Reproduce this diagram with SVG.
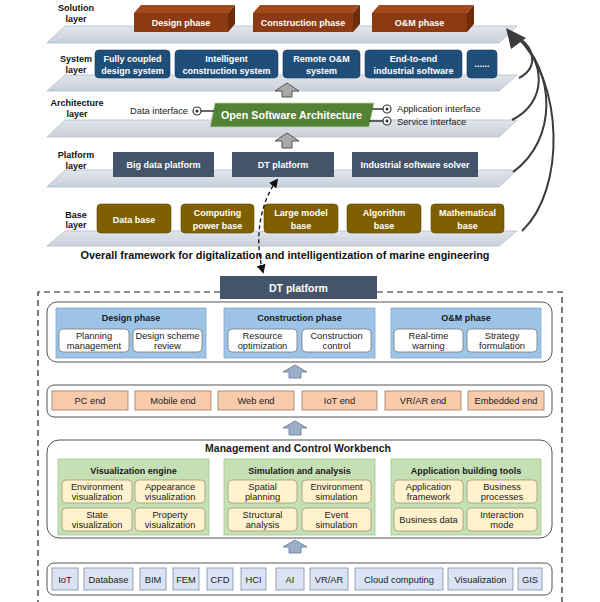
<svg xmlns="http://www.w3.org/2000/svg" width="600" height="602" viewBox="0 0 600 602">
<style>
.t{font-family:"Liberation Sans",Arial,sans-serif;font-size:9.3px;text-anchor:middle;fill:#1a1a1a}
.b{font-weight:bold;font-size:9px}
.w{fill:#ffffff}
.lbl{font-family:"Liberation Sans",Arial,sans-serif;font-size:9px;font-weight:bold;text-anchor:middle;fill:#111}
.plate{fill:url(#pg);stroke:#b4bcc8;stroke-width:0.8}
.sys{fill:#1f4e79;stroke:#16395a;stroke-width:0.6}
.plat{fill:#44546a}
.base{fill:#7f6000;stroke:#5f4800;stroke-width:0.6}
.box{fill:#fff;stroke:#777;stroke-width:0.8}
.cont{fill:#fff;stroke:#555;stroke-width:1}
.phase{fill:#9dc3e6;stroke:#7fa7cf;stroke-width:0.8}
.endb{fill:#f8cbad;stroke:#9c7a63;stroke-width:0.8}
.gp{fill:#c5e0b4;stroke:#a2c98a;stroke-width:0.8}
.cr{fill:#fff2cc;stroke:#a39878;stroke-width:0.8}
.bb{fill:#dae3f3;stroke:#7f8ea6;stroke-width:0.8}
.garr{fill:#a9a9a9;stroke:#555;stroke-width:1}
.barr{fill:#9bb0c8;stroke:#7a8799;stroke-width:1}
.curve{fill:none;stroke:#3c3c3c;stroke-width:2}
.ci{fill:#fff;stroke:#333;stroke-width:1.2}
</style>
<defs>
<linearGradient id="pg" x1="0" y1="0" x2="0" y2="1">
<stop offset="0" stop-color="#e1e5ec"/>
<stop offset="1" stop-color="#c9d0da"/>
</linearGradient>
<marker id="dh" viewBox="0 0 10 10" refX="8" refY="5" markerWidth="7" markerHeight="7" orient="auto-start-reverse">
<path d="M0,0 L10,5 L0,10 z" fill="#111"/>
</marker>
</defs>

<!-- plates -->
<g id="plates">
<polygon class="plate" points="65,26 517,26 499,43 47,43"/>
<polygon class="plate" points="65,75 517,75 499,91 47,91"/>
<polygon class="plate" points="65,120 517,120 499,137 47,137"/>
<polygon class="plate" points="65,170 517,170 499,187 47,187"/>
<polygon class="plate" points="65,231 517,231 499,246 47,246"/>
</g>

<!-- layer labels -->
<g id="labels">
<text class="lbl" x="76" y="11">Solution</text><text class="lbl" x="76" y="21.5">layer</text>
<text class="lbl" x="76" y="62">System</text><text class="lbl" x="76" y="72.5">layer</text>
<text class="lbl" x="77" y="106">Architecture</text><text class="lbl" x="77" y="116.5">layer</text>
<text class="lbl" x="76" y="158">Platform</text><text class="lbl" x="76" y="168.5">layer</text>
<text class="lbl" x="76" y="217.5">Base</text><text class="lbl" x="76" y="228">layer</text>
</g>

<!-- solution layer -->
<g id="sol-design">
<polygon points="134,13 141,5 235,5 228,13" fill="#a24a1c"/>
<polygon points="228,13 235,5 235,24 228,32" fill="#6e2c0a"/>
<rect x="134" y="13" width="94" height="19" fill="#8c3a12"/>
<text class="t b w" x="181" y="25.5">Design phase</text>
</g>
<g id="sol-construction">
<polygon points="253,13 260,5 360,5 353,13" fill="#a24a1c"/>
<polygon points="353,13 360,5 360,24 353,32" fill="#6e2c0a"/>
<rect x="253" y="13" width="100" height="19" fill="#8c3a12"/>
<text class="t b w" x="303" y="25.5">Construction phase</text>
</g>
<g id="sol-om">
<polygon points="372,13 379,5 474,5 467,13" fill="#a24a1c"/>
<polygon points="467,13 474,5 474,24 467,32" fill="#6e2c0a"/>
<rect x="372" y="13" width="95" height="19" fill="#8c3a12"/>
<text class="t b w" x="419.5" y="25.5">O&amp;M phase</text>
</g>

<!-- system layer -->
<g id="sys-fully"><rect class="sys" x="95" y="50" width="75" height="28" rx="4"/>
<text class="t b w" x="132.5" y="62">Fully coupled</text><text class="t b w" x="132.5" y="74">design system</text></g>
<g id="sys-intel"><rect class="sys" x="175" y="50" width="103" height="28" rx="4"/>
<text class="t b w" x="226.5" y="62">Intelligent</text><text class="t b w" x="226.5" y="74">construction system</text></g>
<g id="sys-remote"><rect class="sys" x="283" y="50" width="77" height="28" rx="4"/>
<text class="t b w" x="321.5" y="62">Remote O&amp;M</text><text class="t b w" x="321.5" y="74">system</text></g>
<g id="sys-e2e"><rect class="sys" x="365" y="50" width="97" height="28" rx="4"/>
<text class="t b w" x="413.5" y="62">End-to-end</text><text class="t b w" x="413.5" y="74">industrial software</text></g>
<g id="sys-more"><rect class="sys" x="467" y="50" width="30" height="28" rx="4"/>
<text class="t b w" x="482" y="67">......</text></g>

<!-- architecture layer -->
<g id="arch-osa">
<polygon points="215,103 374,103 369,127 210,127" fill="#548235" stroke="#b9d6a3" stroke-width="0.8"/>
<text class="t w" x="291.5" y="119" style="font-size:11.5px;font-weight:bold" textLength="141" lengthAdjust="spacingAndGlyphs">Open Software Architecture</text>
</g>
<g id="arch-data">
<text class="t" x="188" y="114" style="text-anchor:end">Data interface</text>
<line x1="201" y1="111" x2="214" y2="111" stroke="#333" stroke-width="1.5"/>
<circle class="ci" cx="197" cy="111" r="4"/><circle cx="197" cy="111" r="1.5" fill="#333"/>
</g>
<g id="arch-app">
<line x1="372" y1="109" x2="383" y2="109" stroke="#333" stroke-width="1.5"/>
<circle class="ci" cx="387" cy="109" r="4"/><circle cx="387" cy="109" r="1.5" fill="#333"/>
<text class="t" x="397" y="112" style="text-anchor:start">Application interface</text>
</g>
<g id="arch-svc">
<line x1="369" y1="121" x2="383" y2="121" stroke="#333" stroke-width="1.5"/>
<circle class="ci" cx="387" cy="121" r="4"/><circle cx="387" cy="121" r="1.5" fill="#333"/>
<text class="t" x="397" y="124.5" style="text-anchor:start">Service interface</text>
</g>

<!-- platform layer -->
<g id="plat-bigdata"><rect class="plat" x="113" y="152" width="101" height="25"/>
<text class="t b w" x="163.5" y="168">Big data platform</text></g>
<g id="plat-dt"><rect class="plat" x="232" y="152" width="102" height="25"/>
<text class="t b w" x="283" y="168">DT platform</text></g>
<g id="plat-solver"><rect class="plat" x="352" y="152" width="126" height="25"/>
<text class="t b w" x="415" y="168">Industrial software solver</text></g>

<!-- base layer -->
<g id="base-data"><rect class="base" x="97" y="204" width="74" height="29" rx="4"/>
<text class="t b w" x="134" y="222.5">Data base</text></g>
<g id="base-computing"><rect class="base" x="181" y="204" width="73" height="29" rx="4"/>
<text class="t b w" x="217.5" y="216">Computing</text><text class="t b w" x="217.5" y="228.5">power base</text></g>
<g id="base-large"><rect class="base" x="264" y="204" width="74" height="29" rx="4"/>
<text class="t b w" x="301" y="216">Large model</text><text class="t b w" x="301" y="228.5">base</text></g>
<g id="base-algo"><rect class="base" x="347" y="204" width="74" height="29" rx="4"/>
<text class="t b w" x="384" y="216">Algorithm</text><text class="t b w" x="384" y="228.5">base</text></g>
<g id="base-math"><rect class="base" x="431" y="204" width="73" height="29" rx="4"/>
<text class="t b w" x="467.5" y="216">Mathematical</text><text class="t b w" x="467.5" y="228.5">base</text></g>

<text class="t b" x="285" y="259" style="font-size:10.5px;fill:#111" textLength="409" lengthAdjust="spacingAndGlyphs">Overall framework for digitalization and intelligentization of marine engineering</text>

<!-- connectors -->
<g id="connectors">
<path class="garr" d="M287,83 L299,91 L292,91 L292,97 L282,97 L282,91 L275,91 Z"/>
<path class="garr" d="M287,133 L299,141 L292,141 L292,148 L282,148 L282,141 L275,141 Z"/>
<path class="curve" d="M519,78 C538,68 536,48 516,36"/>
<path class="curve" d="M512,120 C548,102 546,60 516,36"/>
<path class="curve" d="M513,172 C558,140 556,70 516,36"/>
<path class="curve" d="M522,231 C566,190 564,80 516,36"/>
<polygon points="506,28 526,38 511,49" fill="#3c3c3c"/>
<path d="M277,180 C262,200 253,235 263,272" fill="none" stroke="#111" stroke-width="1.3" stroke-dasharray="4,3" marker-start="url(#dh)" marker-end="url(#dh)"/>
<path class="barr" d="M295,365 L307,372 L301,372 L301,378 L289,378 L289,372 L283,372 Z"/>
<path class="barr" d="M295,421 L307,428 L301,428 L301,435 L289,435 L289,428 L283,428 Z"/>
<path class="barr" d="M295,540 L307,547 L301,547 L301,553 L289,553 L289,547 L283,547 Z"/>
</g>

<!-- dashed frame -->
<path d="M220,292 L38,292 L38,602 M377,292 L562,292 L562,602" fill="none" stroke="#222" stroke-width="1.2" stroke-dasharray="6,4"/>

<g id="dt-platform"><rect class="plat" x="220" y="276" width="157" height="23"/>
<text class="t b w" x="298.5" y="291.5" style="font-size:10.5px">DT platform</text></g>

<!-- phases -->
<g id="phase-container"><rect class="cont" x="47" y="302" width="505" height="60" rx="10"/></g>
<g id="ph-design">
<rect class="phase" x="56" y="308" width="150" height="50"/>
<text class="t b" x="131" y="321">Design phase</text>
<rect class="box" x="59" y="329" width="70" height="23" rx="4"/>
<text class="t" x="94" y="338.5">Planning</text><text class="t" x="94" y="349">management</text>
<rect class="box" x="133" y="329" width="69" height="23" rx="4"/>
<text class="t" x="167.5" y="338.5">Design scheme</text><text class="t" x="167.5" y="349">review</text>
</g>
<g id="ph-construction">
<rect class="phase" x="224" y="308" width="151" height="50"/>
<text class="t b" x="299.5" y="321">Construction phase</text>
<rect class="box" x="228" y="329" width="69" height="23" rx="4"/>
<text class="t" x="262.5" y="338.5">Resource</text><text class="t" x="262.5" y="349">optimization</text>
<rect class="box" x="302" y="329" width="69" height="23" rx="4"/>
<text class="t" x="336.5" y="338.5">Construction</text><text class="t" x="336.5" y="349">control</text>
</g>
<g id="ph-om">
<rect class="phase" x="391" y="308" width="150" height="50"/>
<text class="t b" x="466" y="321">O&amp;M phase</text>
<rect class="box" x="394" y="329" width="69" height="23" rx="4"/>
<text class="t" x="428.5" y="338.5">Real-time</text><text class="t" x="428.5" y="349">warning</text>
<rect class="box" x="467" y="329" width="70" height="23" rx="4"/>
<text class="t" x="502" y="338.5">Strategy</text><text class="t" x="502" y="349">formulation</text>
</g>

<!-- ends -->
<g id="ends-container"><rect class="cont" x="47" y="385" width="505" height="32" rx="7"/></g>
<g id="end-pc"><rect class="endb" x="52" y="391" width="76" height="19"/><text class="t" x="90" y="403.5">PC end</text></g>
<g id="end-mobile"><rect class="endb" x="135" y="391" width="76" height="19"/><text class="t" x="173" y="403.5">Mobile end</text></g>
<g id="end-web"><rect class="endb" x="218" y="391" width="76" height="19"/><text class="t" x="256" y="403.5">Web end</text></g>
<g id="end-iot"><rect class="endb" x="302" y="391" width="75" height="19"/><text class="t" x="339.5" y="403.5">IoT end</text></g>
<g id="end-vrar"><rect class="endb" x="385" y="391" width="76" height="19"/><text class="t" x="423" y="403.5">VR/AR end</text></g>
<g id="end-embedded"><rect class="endb" x="468" y="391" width="76" height="19"/><text class="t" x="506" y="403.5">Embedded end</text></g>

<!-- workbench -->
<g id="workbench"><rect class="cont" x="47" y="440" width="505" height="98" rx="12"/>
<text class="t b" x="298" y="452" style="font-size:10.5px">Management and Control Workbench</text></g>
<g id="wb-vis">
<rect class="gp" x="58" y="459" width="151" height="76"/>
<text class="t b" x="133.5" y="474">Visualization engine</text>
<rect class="cr" x="62" y="480" width="70" height="23" rx="4"/>
<text class="t" x="97" y="489.5">Environment</text><text class="t" x="97" y="500">visualization</text>
<rect class="cr" x="135" y="480" width="70" height="23" rx="4"/>
<text class="t" x="170" y="489.5">Appearance</text><text class="t" x="170" y="500">visualization</text>
<rect class="cr" x="62" y="508" width="70" height="23" rx="4"/>
<text class="t" x="97" y="517.5">State</text><text class="t" x="97" y="528">visualization</text>
<rect class="cr" x="135" y="508" width="70" height="23" rx="4"/>
<text class="t" x="170" y="517.5">Property</text><text class="t" x="170" y="528">visualization</text>
</g>
<g id="wb-sim">
<rect class="gp" x="224" y="459" width="151" height="76"/>
<text class="t b" x="299.5" y="474">Simulation and analysis</text>
<rect class="cr" x="228" y="480" width="69" height="23" rx="4"/>
<text class="t" x="262.5" y="489.5">Spatial</text><text class="t" x="262.5" y="500">planning</text>
<rect class="cr" x="302" y="480" width="69" height="23" rx="4"/>
<text class="t" x="336.5" y="489.5">Environment</text><text class="t" x="336.5" y="500">simulation</text>
<rect class="cr" x="228" y="508" width="69" height="23" rx="4"/>
<text class="t" x="262.5" y="517.5">Structural</text><text class="t" x="262.5" y="528">analysis</text>
<rect class="cr" x="302" y="508" width="69" height="23" rx="4"/>
<text class="t" x="336.5" y="517.5">Event</text><text class="t" x="336.5" y="528">simulation</text>
</g>
<g id="wb-app">
<rect class="gp" x="391" y="459" width="150" height="76"/>
<text class="t b" x="466" y="474">Application building tools</text>
<rect class="cr" x="394" y="480" width="69" height="23" rx="4"/>
<text class="t" x="428.5" y="489.5">Application</text><text class="t" x="428.5" y="500">framework</text>
<rect class="cr" x="467" y="480" width="70" height="23" rx="4"/>
<text class="t" x="502" y="489.5">Business</text><text class="t" x="502" y="500">processes</text>
<rect class="cr" x="394" y="508" width="69" height="23" rx="4"/>
<text class="t" x="428.5" y="522.5">Business data</text>
<rect class="cr" x="467" y="508" width="70" height="23" rx="4"/>
<text class="t" x="502" y="517.5">Interaction</text><text class="t" x="502" y="528">mode</text>
</g>

<!-- base technologies -->
<g id="tech-container"><rect class="cont" x="47" y="563" width="505" height="32" rx="7"/></g>
<g id="tech-iot"><rect class="bb" x="52" y="568" width="26" height="22"/><text class="t" x="65" y="582.5">IoT</text></g>
<g id="tech-db"><rect class="bb" x="84" y="568" width="49" height="22"/><text class="t" x="108.5" y="582.5">Database</text></g>
<g id="tech-bim"><rect class="bb" x="140" y="568" width="26" height="22"/><text class="t" x="153" y="582.5">BIM</text></g>
<g id="tech-fem"><rect class="bb" x="173" y="568" width="26" height="22"/><text class="t" x="186" y="582.5">FEM</text></g>
<g id="tech-cfd"><rect class="bb" x="207" y="568" width="26" height="22"/><text class="t" x="220" y="582.5">CFD</text></g>
<g id="tech-hci"><rect class="bb" x="241" y="568" width="25" height="22"/><text class="t" x="253.5" y="582.5">HCI</text></g>
<g id="tech-ai"><rect class="bb" x="276" y="568" width="28" height="22"/><text class="t" x="290" y="582.5">AI</text></g>
<g id="tech-vrar"><rect class="bb" x="310" y="568" width="38" height="22"/><text class="t" x="329" y="582.5">VR/AR</text></g>
<g id="tech-cloud"><rect class="bb" x="355" y="568" width="88" height="22"/><text class="t" x="399" y="582.5">Cloud computing</text></g>
<g id="tech-vis"><rect class="bb" x="448" y="568" width="65" height="22"/><text class="t" x="480.5" y="582.5">Visualization</text></g>
<g id="tech-gis"><rect class="bb" x="518" y="568" width="24" height="22"/><text class="t" x="530" y="582.5">GIS</text></g>
</svg>
